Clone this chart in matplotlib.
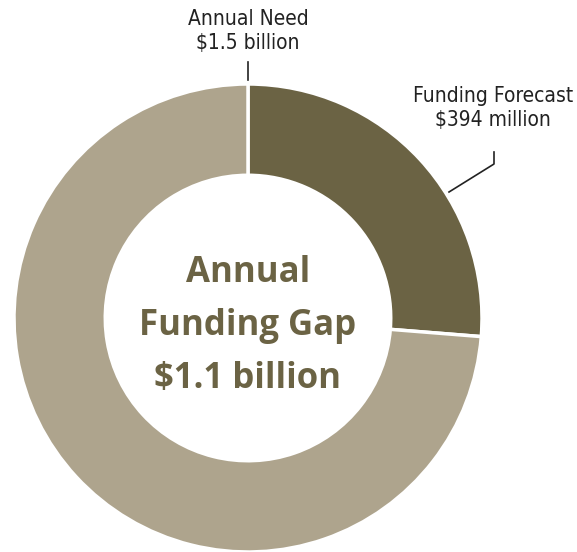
import matplotlib
matplotlib.use("Agg")
import matplotlib.pyplot as plt
import matplotlib.transforms as mtransforms

# values in millions of dollars
labels = ["Funding Forecast", "Annual Funding Gap"]
values = [394, 1106]
colors = ["#6b6344", "#aea48d"]
need_text = "Annual Need\n$1.5 billion"
forecast_text = "Funding Forecast\n$394 million"
gap_text = "Annual\nFunding Gap\n$1.1 billion"

W, H = 577, 552
fig = plt.figure(figsize=(W / 100, H / 100), dpi=100)
ax = fig.add_axes([0, 0, 1, 1])
ax.axis("off")

cx, cy, r = 248, 318, 234
wedges, _ = ax.pie(values, colors=colors, startangle=90, counterclock=False,
                   center=(cx, -cy), radius=r,
                   wedgeprops=dict(width=r * 0.39, edgecolor="white", linewidth=2.5))
# pie draws in y-up coords; flip the wedges into pixel space
flip = mtransforms.Affine2D().scale(1, -1) + ax.transData
for w in wedges:
    w.set_transform(flip)
ax.set_xlim(0, W)
ax.set_ylim(H, 0)
ax.set_aspect("equal")

ax.text(248, 31, need_text, ha="center", va="center", fontsize=15,
        family="DejaVu Sans", fontstretch="condensed", color="#222222",
        linespacing=1.3)
ax.plot([248, 248], [62, 80], color="#222222", lw=1.2)

ax.text(493, 108, forecast_text, ha="center", va="center", fontsize=15,
        family="DejaVu Sans", fontstretch="condensed", color="#222222",
        linespacing=1.3)
ax.plot([494, 494, 449], [152, 164, 192], color="#222222", lw=1.2)

ax.text(cx, 326, gap_text, ha="center", va="center", fontsize=25,
        fontweight="bold", family=["Open Sans", "DejaVu Sans"],
        color="#6b6344", linespacing=1.62)

fig.savefig("out.png", dpi=100)
